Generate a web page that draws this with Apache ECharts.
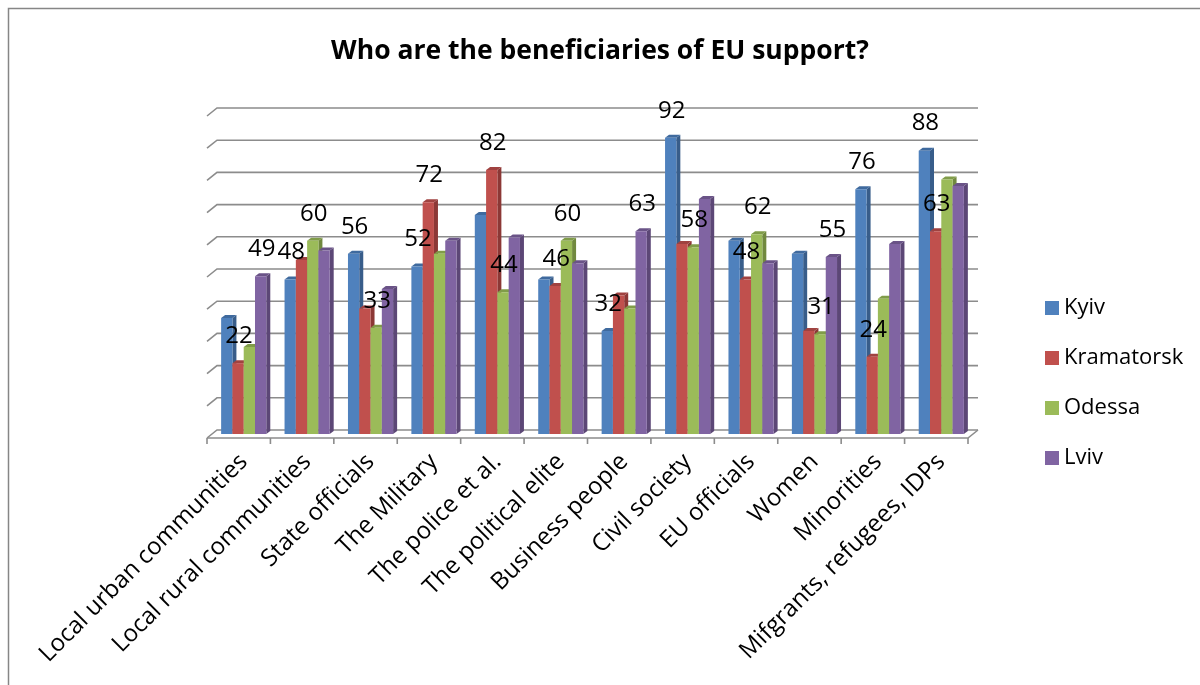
<!DOCTYPE html>
<html>
<head>
<meta charset="utf-8">
<script src="https://cdn.jsdelivr.net/npm/echarts@6/dist/echarts.min.js"></script>
<style>
html,body{margin:0;padding:0;background:#fff;}
#c{width:1200px;height:685px;}
</style>
</head>
<body>
<div id="c"></div>
<script>
const categories = ['Local urban communities','Local rural communities','State officials','The Military','The police et al.','The political elite','Business people','Civil society','EU officials','Women','Minorities','Mifgrants, refugees, IDPs'];
const cities = ['Kyiv','Kramatorsk','Odessa','Lviv'];
const kyiv       = [36,48,56,52,68,48,32,92,60,56,76,88];
const kramatorsk = [22,54,39,72,82,46,43,59,48,32,24,63];
const odessa     = [27,60,33,56,44,60,39,58,62,31,42,79];
const lviv       = [49,57,45,60,61,53,63,73,53,55,59,77];
// indices of categories whose value label is shown for each city
const labelsKyiv       = [1,2,3,6,7,10,11];
const labelsKramatorsk = [0,3,4,5,8,10,11];
const labelsOdessa     = [1,2,4,5,7,8,9];
const labelsLviv       = [0,6,9];
const yTicks = [0,10,20,30,40,50,60,70,80,90,100];

const FONT = "'Open Sans', 'DejaVu Sans', sans-serif";
const palette = [
  {front:'#4F81BD', side:'#385D8A', top:'#3F6A9E'},
  {front:'#C0504D', side:'#8C3836', top:'#A04240'},
  {front:'#9BBB59', side:'#71893F', top:'#809C49'},
  {front:'#8064A2', side:'#5C4776', top:'#6A5387'}
];
const GRID_COLOR = '#8c8c8c';

function barSeries(name, values, labelIdx, sIdx) {
  const col = palette[sIdx];
  return {
    type: 'custom',
    name: name,
    itemStyle: {color: col.front},
    data: values.map((v, i) => [i, v]),
    encode: {x: 0, y: 1},
    renderItem: function (params, api) {
      const i = api.value(0), v = api.value(1);
      const c = api.coord([i, v]);
      const b = api.coord([i, 0]);
      const band = api.size([1, 0])[0];
      const w = band * 0.178;
      const x = c[0] - 2 * w + sIdx * w;
      const top = c[1], bot = b[1];
      const dx = 4, dy = 3;
      const children = [
        {type: 'polygon', shape: {points: [[x + w, top], [x + w + dx, top - dy], [x + w + dx, bot - dy], [x + w, bot]]}, style: {fill: col.side}},
        {type: 'polygon', shape: {points: [[x, top], [x + dx, top - dy], [x + w + dx, top - dy], [x + w, top]]}, style: {fill: col.top}},
        {type: 'rect', shape: {x: x, y: top, width: w, height: bot - top}, style: {fill: col.front}}
      ];
      if (labelIdx.indexOf(i) >= 0) {
        children.push({
          type: 'text', z2: 100,
          style: {text: String(v), x: x + w / 2 + 1, y: top - 27, align: 'center', verticalAlign: 'middle',
                  fill: '#000', font: '24px ' + FONT}
        });
      }
      return {type: 'group', children: children};
    }
  };
}

const frameSeries = {
  type: 'custom',
  name: 'frame',
  silent: true,
  z: 1,
  data: yTicks.map(t => [0, t]),
  encode: {x: 0, y: 1},
  renderItem: function (params, api) {
    const t = api.value(1);
    const band = api.size([1, 0])[0];
    const leftMid = api.coord([0, t])[0] - band / 2;
    const rightMid = api.coord([categories.length - 1, t])[0] + band / 2;
    const y = api.coord([0, t])[1] - 4;
    const ls = {stroke: GRID_COLOR, lineWidth: 1.6, fill: null};
    const children = [
      {type: 'polyline', shape: {points: [[leftMid - 5, y + 8], [leftMid + 5, y], [rightMid + 5, y]]}, style: ls}
    ];
    if (t === 0) {
      children.push({type: 'polyline', shape: {points: [[leftMid - 5, y + 8], [rightMid - 5, y + 8], [rightMid + 5, y]]}, style: ls});
      for (let k = 0; k <= categories.length; k++) {
        const xx = leftMid - 5 + k * band;
        children.push({type: 'line', shape: {x1: xx, y1: y + 8, x2: xx, y2: y + 14}, style: ls});
      }
    }
    return {type: 'group', children: children};
  }
};

const chart = echarts.init(document.getElementById('c'), null, {renderer: 'canvas'});
chart.setOption({
  backgroundColor: '#fff',
  animation: false,
  title: {
    text: 'Who are the beneficiaries of EU support?',
    left: 'center', top: 33,
    textStyle: {fontFamily: FONT, fontWeight: 'bold', fontSize: 26.5, color: '#000'}
  },
  graphic: [{type: 'rect', shape: {x: 8.5, y: 8.5, width: 1300, height: 800}, style: {fill: null, stroke: '#868686', lineWidth: 1.5}, silent: true}],
  legend: {
    data: cities,
    orient: 'vertical', left: 1040, top: 292,
    itemWidth: 14, itemHeight: 14, itemGap: 28, icon: 'rect',
    textStyle: {fontFamily: FONT, fontSize: 22, color: '#000'}
  },
  grid: {left: 212, right: 227, top: 112, bottom: 251, containLabel: false},
  xAxis: {
    type: 'category', data: categories,
    axisLine: {show: false}, axisTick: {show: false}, splitLine: {show: false},
    axisLabel: {rotate: 45, margin: 24, interval: 0, fontFamily: FONT, fontSize: 24, color: '#000'}
  },
  yAxis: {
    type: 'value', min: 0, max: 100, interval: 10,
    axisLine: {show: false}, axisTick: {show: false}, axisLabel: {show: false}, splitLine: {show: false}
  },
  series: [
    frameSeries,
    barSeries('Kyiv', kyiv, labelsKyiv, 0),
    barSeries('Kramatorsk', kramatorsk, labelsKramatorsk, 1),
    barSeries('Odessa', odessa, labelsOdessa, 2),
    barSeries('Lviv', lviv, labelsLviv, 3)
  ]
});
</script>
</body>
</html>
